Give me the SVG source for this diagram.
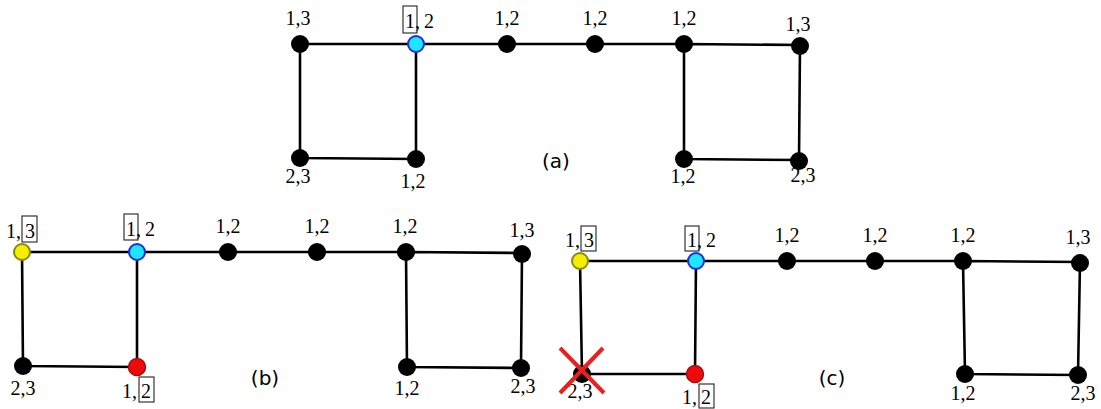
<svg xmlns="http://www.w3.org/2000/svg" width="1101" height="409" viewBox="0 0 1101 409">
<style>
.e{stroke:#000;stroke-width:2.6;fill:none}
.n{fill:#000}
.cy{fill:#1ee6ff;stroke:#1c2fe0;stroke-width:2}
.ye{fill:#f4ee00;stroke:#8c8a10;stroke-width:2}
.rd{fill:#ee0a0a;stroke:#a01010;stroke-width:1.5}
.t{font-family:"Liberation Serif","DejaVu Serif","Times New Roman",serif;font-size:20px;fill:#000}
.bx{fill:none;stroke:#222;stroke-width:1.1}
.cap{font-family:"DejaVu Sans",Verdana,sans-serif;font-size:20px;fill:#000}
.x{stroke:#e8201f;stroke-width:4;stroke-linecap:butt}
</style>
<rect width="1101" height="409" fill="#fff"/>
<g id="connectors">
<path class="e" d="M300,44 L416,44 L507,44 L595,44 L684,44 L800,45 L799,160 L684,159 L684,44 M300,44 L300,158 L416,159 L416,44"/>
<path class="e" d="M22,252 L137,252 L228,252 L317,252 L406,252 L522,253 L521,368 L407,367 L406,252 M22,252 L23,366 L137,367 L137,252"/>
<path class="e" d="M580,261 L696,261 L787,261 L875,261 L963,261 L1080,262 L1078,375 L965,374 L963,261 M580,261 L582,374 L695,374 L696,261"/>
</g>
<g id="graph-a">
<g id="a-n1"><circle class="n" cx="300" cy="44" r="9"/><text class="t" x="298" y="25" text-anchor="middle">1,3</text></g>
<g id="a-n2"><circle class="cy" cx="416" cy="44" r="8"/><rect class="bx" x="403" y="6" width="14" height="27"/><text class="t" x="405" y="28">1,<tspan dx="4">2</tspan></text></g>
<g id="a-n3"><circle class="n" cx="507" cy="44" r="9"/><text class="t" x="507" y="25" text-anchor="middle">1,2</text></g>
<g id="a-n4"><circle class="n" cx="595" cy="44" r="9"/><text class="t" x="595" y="25" text-anchor="middle">1,2</text></g>
<g id="a-n5"><circle class="n" cx="684" cy="44" r="9"/><text class="t" x="684" y="25" text-anchor="middle">1,2</text></g>
<g id="a-n6"><circle class="n" cx="800" cy="46" r="9"/><text class="t" x="798" y="31" text-anchor="middle">1,3</text></g>
<g id="a-n7"><circle class="n" cx="300" cy="158" r="9"/><text class="t" x="298" y="183" text-anchor="middle">2,3</text></g>
<g id="a-n8"><circle class="n" cx="416" cy="159" r="9"/><text class="t" x="413" y="188" text-anchor="middle">1,2</text></g>
<g id="a-n9"><circle class="n" cx="684" cy="159" r="9"/><text class="t" x="683" y="183" text-anchor="middle">1,2</text></g>
<g id="a-n10"><circle class="n" cx="799" cy="161" r="9"/><text class="t" x="803" y="182" text-anchor="middle">2,3</text></g>
<text class="cap" x="556" y="168" text-anchor="middle">(a)</text>
</g>
<g id="graph-b">
<g id="b-n1"><circle class="ye" cx="22" cy="252" r="8"/><rect class="bx" x="22" y="216" width="15" height="26"/><text class="t" x="6" y="238">1,<tspan dx="4">3</tspan></text></g>
<g id="b-n2"><circle class="cy" cx="137" cy="252" r="8"/><rect class="bx" x="124" y="214" width="14" height="26"/><text class="t" x="126" y="236">1,<tspan dx="4">2</tspan></text></g>
<g id="b-n3"><circle class="n" cx="228" cy="252" r="9"/><text class="t" x="228" y="233" text-anchor="middle">1,2</text></g>
<g id="b-n4"><circle class="n" cx="317" cy="252" r="9"/><text class="t" x="317" y="233" text-anchor="middle">1,2</text></g>
<g id="b-n5"><circle class="n" cx="406" cy="252" r="9"/><text class="t" x="405" y="233" text-anchor="middle">1,2</text></g>
<g id="b-n6"><circle class="n" cx="522" cy="254" r="9"/><text class="t" x="522" y="237" text-anchor="middle">1,3</text></g>
<g id="b-n7"><circle class="n" cx="23" cy="366" r="9"/><text class="t" x="23" y="395" text-anchor="middle">2,3</text></g>
<g id="b-n8"><circle class="rd" cx="137" cy="367" r="8.5"/><rect class="bx" x="139" y="377" width="15" height="25"/><text class="t" x="122" y="398">1,<tspan dx="4">2</tspan></text></g>
<g id="b-n9"><circle class="n" cx="407" cy="367" r="9"/><text class="t" x="407" y="395" text-anchor="middle">1,2</text></g>
<g id="b-n10"><circle class="n" cx="521" cy="368" r="9"/><text class="t" x="523" y="393" text-anchor="middle">2,3</text></g>
<text class="cap" x="265" y="385" text-anchor="middle">(b)</text>
</g>
<g id="graph-c">
<g id="c-n1"><circle class="ye" cx="580" cy="261" r="8"/><rect class="bx" x="581" y="226" width="15" height="25"/><text class="t" x="565" y="247">1,<tspan dx="4">3</tspan></text></g>
<g id="c-n2"><circle class="cy" cx="696" cy="261" r="8"/><rect class="bx" x="685" y="226" width="14" height="25"/><text class="t" x="687" y="247">1,<tspan dx="4">2</tspan></text></g>
<g id="c-n3"><circle class="n" cx="787" cy="261" r="9"/><text class="t" x="787" y="242" text-anchor="middle">1,2</text></g>
<g id="c-n4"><circle class="n" cx="875" cy="261" r="9"/><text class="t" x="875" y="242" text-anchor="middle">1,2</text></g>
<g id="c-n5"><circle class="n" cx="963" cy="261" r="9"/><text class="t" x="963" y="242" text-anchor="middle">1,2</text></g>
<g id="c-n6"><circle class="n" cx="1080" cy="263" r="9"/><text class="t" x="1078" y="244" text-anchor="middle">1,3</text></g>
<g id="c-n7"><circle class="n" cx="582" cy="374" r="9"/><text class="t" x="580" y="398" text-anchor="middle">2,3</text>
<path class="x" d="M560,348 L604,393 M603,348 L560,393"/></g>
<g id="c-n8"><circle class="rd" cx="695" cy="374" r="8.5"/><rect class="bx" x="699" y="384" width="15" height="24"/><text class="t" x="682" y="404">1,<tspan dx="4">2</tspan></text></g>
<g id="c-n9"><circle class="n" cx="965" cy="374" r="9"/><text class="t" x="963" y="400" text-anchor="middle">1,2</text></g>
<g id="c-n10"><circle class="n" cx="1078" cy="375" r="9"/><text class="t" x="1083" y="400" text-anchor="middle">2,3</text></g>
<text class="cap" x="832" y="385" text-anchor="middle">(c)</text>
</g>
</svg>
